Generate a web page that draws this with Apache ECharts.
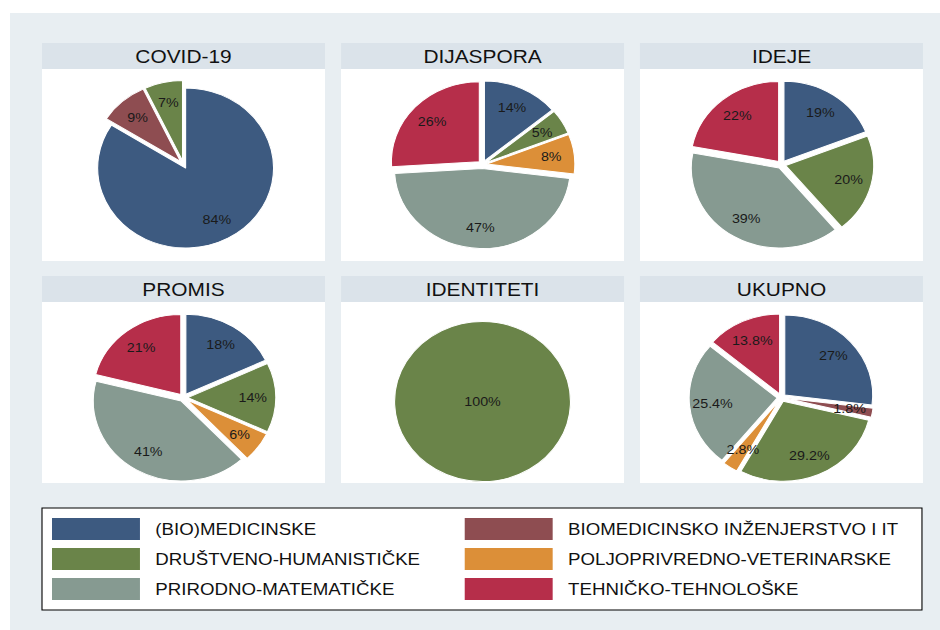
<!DOCTYPE html>
<html><head><meta charset="utf-8">
<script src="https://cdn.jsdelivr.net/npm/echarts@6/dist/echarts.min.js"></script>
<style>
html,body{margin:0;padding:0;background:#fff;overflow:hidden}
#c{width:855px;height:630px;transform:scaleX(1.0994152);transform-origin:0 0}
</style></head><body><div id="c"></div>
<script>
// ---- data ----
const categories = ['(BIO)MEDICINSKE', 'BIOMEDICINSKO INŽENJERSTVO I IT', 'DRUŠTVENO-HUMANISTIČKE',
  'POLJOPRIVREDNO-VETERINARSKE', 'PRIRODNO-MATEMATIČKE', 'TEHNIČKO-TEHNOLOŠKE'];
const panelTitles = ['COVID-19', 'DIJASPORA', 'IDEJE', 'PROMIS', 'IDENTITETI', 'UKUPNO'];
const covid      = [84, 9, 7, 0, 0, 0];
const dijaspora  = [14, 0, 5, 8, 47, 26];
const ideje      = [19, 0, 20, 0, 39, 22];
const promis     = [18, 0, 14, 6, 41, 21];
const identiteti = [0, 0, 100, 0, 0, 0];
const ukupno     = [27, 1.8, 29.2, 2.8, 25.4, 13.8];
const panelValues = [covid, dijaspora, ideje, promis, identiteti, ukupno];

// ---- style / layout ----
const colors = ['#3d5a80', '#8e4d51', '#6a8449', '#dc8f38', '#869a91', '#b62e4a'];
const FONT = "'Liberation Sans', Arial, sans-serif";
const colLeft = [38.2, 310.2, 582.1];
const colW = 257.4;
const rowTop = [43, 276];
const headH = 26;
const plotH = [192, 181];
const pieCY = [164.5, 397.6];
const R = 80;

const chart = echarts.init(document.getElementById('c'), null, {renderer: 'svg'});

const graphics = [
  {type: 'rect', shape: {x: 9.1, y: 13, width: 846, height: 617}, style: {fill: '#e8eef2'}, silent: true, z: -10}
];
const titles = [];
const visSeries = [];
const lblSeries = [];

panelValues.forEach((vals, i) => {
  const col = i % 3, row = Math.floor(i / 3);
  const x0 = colLeft[col], y0 = rowTop[row];
  const cx = x0 + colW / 2, cy = pieCY[row];
  graphics.push({type: 'rect', shape: {x: x0, y: y0, width: colW, height: headH}, style: {fill: '#dbe3ea'}, silent: true, z: -9});
  graphics.push({type: 'rect', shape: {x: x0, y: y0 + headH, width: colW, height: plotH[row]}, style: {fill: '#ffffff'}, silent: true, z: -9});
  titles.push({
    text: panelTitles[i], left: cx, top: y0, textAlign: 'center', padding: 0,
    textStyle: {fontFamily: FONT, fontSize: 19, fontWeight: 'normal', color: '#111', lineHeight: headH}
  });
  const items = [];
  vals.forEach((v, k) => {
    if (v > 0) items.push({name: categories[k], value: v, selected: true, itemStyle: {color: colors[k]}});
  });
  const single = items.length === 1;
  visSeries.push({
    type: 'pie', center: [cx, cy], radius: R, startAngle: 90, clockwise: true,
    selectedMode: 'multiple', selectedOffset: 4, avoidLabelOverlap: false,
    label: {show: false}, labelLine: {show: false}, emphasis: {disabled: true},
    itemStyle: {borderColor: '#ffffff', borderWidth: 1},
    data: items
  });
  lblSeries.push({
    type: 'pie', center: [cx, cy], radius: [R * 0.4, R], startAngle: 90, clockwise: true,
    selectedMode: 'multiple', selectedOffset: 4, avoidLabelOverlap: false,
    itemStyle: {color: 'rgba(0,0,0,0)', borderWidth: 0},
    label: {show: true, position: single ? 'center' : 'inside', formatter: p => p.value + '%',
      fontFamily: FONT, fontSize: 13, color: '#1a1a1a'},
    labelLine: {show: false}, emphasis: {disabled: true},
    data: items.map(d => ({name: d.name, value: d.value, selected: true}))
  });
});

graphics.push({type: 'rect', shape: {x: 38.2, y: 508, width: 800.4, height: 102},
  style: {fill: '#ffffff', stroke: '#000000', lineWidth: 1}, silent: true, z: -8});

const legendCommon = {
  orient: 'vertical', top: 518, itemWidth: 80, itemHeight: 22, itemGap: 8, icon: 'rect',
  selectedMode: false, padding: 0,
  itemStyle: {borderWidth: 0},
  textStyle: {fontFamily: FONT, fontSize: 17, color: '#111', padding: [4, 0, 0, 9]}
};

chart.setOption({
  animation: false,
  title: titles,
  graphic: graphics,
  legend: [
    Object.assign({}, legendCommon, {left: 47.3, data: [categories[0], categories[2], categories[4]]}),
    Object.assign({}, legendCommon, {left: 422.7, data: [categories[1], categories[3], categories[5]]})
  ],
  series: visSeries.concat(lblSeries)
});
</script>
</body></html>
